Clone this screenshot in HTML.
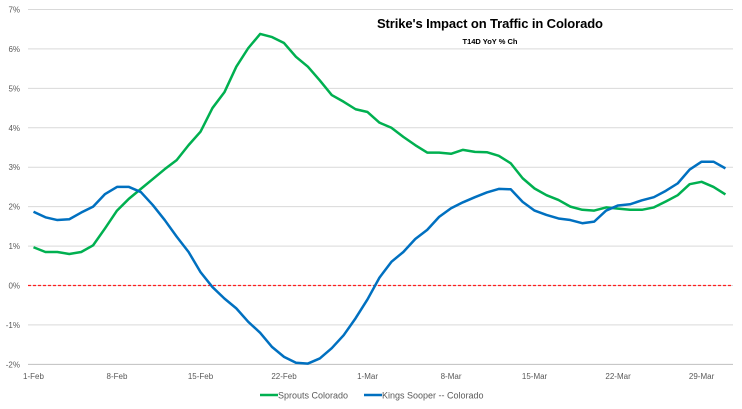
<!DOCTYPE html>
<html><head><meta charset="utf-8"><style>
body{margin:0;background:#fff;font-family:"Liberation Sans",sans-serif}
svg{display:block}
</style></head><body>
<svg id="chart" width="742" height="409" viewBox="0 0 742 409">
<g id="grid"></g>
<g id="yaxis"></g>
<g id="xaxis"></g>
<g id="series"></g>
<text x="377" y="28" font-size="13" font-weight="bold" fill="#000" textLength="226">Strike's Impact on Traffic in Colorado</text>
<text x="490" y="44" font-size="7.5" font-weight="bold" fill="#000" text-anchor="middle">T14D YoY % Ch</text>
<g>
<g>
<line x1="260" y1="395" x2="278" y2="395" stroke="#00b050" stroke-width="2.5"/>
<text x="278" y="398.5" font-size="9" fill="#595959">Sprouts Colorado</text></g>
<g>
<line x1="364" y1="395" x2="382" y2="395" stroke="#0070c0" stroke-width="2.5"/>
<text x="382" y="398.5" font-size="9" fill="#595959">Kings Sooper -- Colorado</text></g>
</g>
</svg>
<script>
const yTicks=[-2,-1,0,1,2,3,4,5,6,7];
const xTickLabels=["1-Feb","8-Feb","15-Feb","22-Feb","1-Mar","8-Mar","15-Mar","22-Mar","29-Mar"];
const sprouts=[0.97,0.85,0.85,0.8,0.85,1.02,1.45,1.9,2.2,2.45,2.7,2.95,3.18,3.56,3.9,4.5,4.9,5.55,6.02,6.38,6.3,6.15,5.8,5.55,5.2,4.83,4.66,4.47,4.4,4.13,4.0,3.77,3.56,3.37,3.37,3.34,3.44,3.39,3.38,3.29,3.1,2.72,2.46,2.29,2.17,2.0,1.92,1.9,1.98,1.95,1.92,1.92,1.98,2.13,2.29,2.57,2.63,2.5,2.31];
const kings=[1.87,1.73,1.66,1.68,1.85,2.0,2.32,2.5,2.5,2.37,2.04,1.66,1.24,0.85,0.34,-0.04,-0.33,-0.58,-0.92,-1.2,-1.56,-1.81,-1.96,-1.98,-1.85,-1.59,-1.26,-0.83,-0.35,0.2,0.6,0.85,1.18,1.41,1.74,1.96,2.11,2.24,2.36,2.45,2.44,2.12,1.9,1.79,1.7,1.66,1.58,1.62,1.9,2.03,2.06,2.16,2.24,2.4,2.59,2.94,3.14,3.14,2.97];
const NS="http://www.w3.org/2000/svg";
const L=28,R=733,dx=11.93,x0=33.5;
const y=v=>285.5-v*39.43;
const x=i=>x0+i*dx;
function mk(t,a,p){const e=document.createElementNS(NS,t);for(const k in a)e.setAttribute(k,a[k]);p.appendChild(e);return e;}
const grid=document.getElementById('grid'),ya=document.getElementById('yaxis'),xa=document.getElementById('xaxis'),se=document.getElementById('series');
yTicks.forEach(v=>{
 const g=mk('line',{x1:L,x2:R,y1:y(v),y2:y(v),stroke:v===-2?'#bfbfbf':'#d9d9d9','stroke-width':1},grid);
 
 
 const t=mk('text',{x:20,y:y(v)+3,'font-size':8,fill:'#595959','text-anchor':'end'},ya);
 t.textContent=v+'%';
 
 
});
const z=mk('line',{x1:L,x2:R,y1:y(0),y2:y(0),stroke:'#ff2020','stroke-width':1.2,'stroke-dasharray':'3,2'},grid);


xTickLabels.forEach((s,k)=>{
 const t=mk('text',{x:x(k*7),y:379,'font-size':8,fill:'#595959','text-anchor':'middle'},xa);
 t.textContent=s;
 
 
});
function line(arr,c,name){
 const p=mk('polyline',{points:arr.map((v,i)=>x(i)+','+y(v)).join(' '),fill:'none',stroke:c,'stroke-width':2.5,'stroke-linejoin':'round'},se);
 
 
}
line(sprouts,'#00b050','sprouts-line');
line(kings,'#0070c0','kings-sooper-line');
</script>
</body></html>
